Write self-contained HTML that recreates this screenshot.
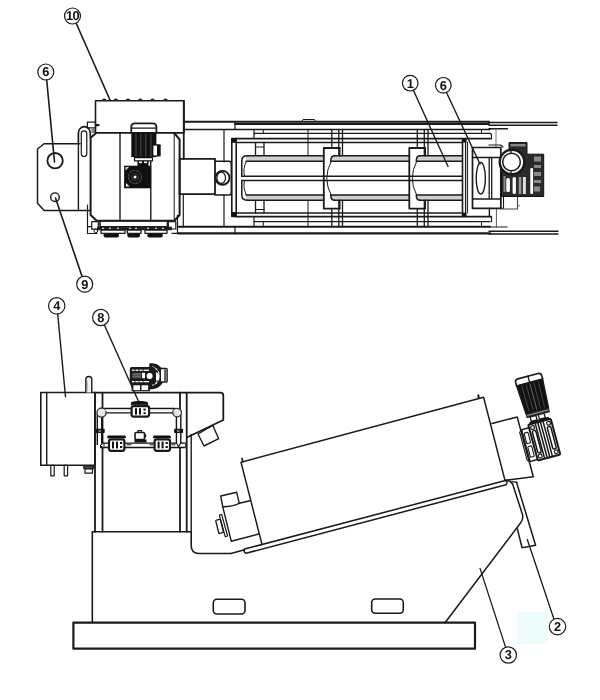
<!DOCTYPE html>
<html><head><meta charset="utf-8">
<style>
html,body{margin:0;padding:0;background:#fff;}
body{width:600px;height:700px;overflow:hidden;}
svg{display:block;filter:blur(0.35px);}
text{text-rendering:geometricPrecision;}
text{font-family:"Liberation Sans",sans-serif;font-size:12.8px;font-weight:bold;fill:#111;text-anchor:middle;}
</style></head>
<body>
<svg width="600" height="700" viewBox="0 0 600 700">
<rect width="600" height="700" fill="#fff"/>
<rect x="517.3" y="612.2" width="30.6" height="32" fill="#effcfc"/>
<g fill="none" stroke="#1a1a1a" stroke-width="1.2" stroke-linejoin="round" stroke-linecap="round">

<!-- ============ TOP VIEW ============ -->
<!-- left plate -->
<path d="M80,143.7 L44,143.7 L37.5,149 L37.5,203.3 L44.2,210.5 L90,210.5" stroke-width="1.45"/>
<line x1="78.4" y1="143.3" x2="78.4" y2="210.5" stroke-width="1.4"/>
<circle cx="55.1" cy="160.7" r="7.7" stroke-width="1.8"/>
<circle cx="55" cy="197.2" r="4.3" stroke-width="1.4"/>
<!-- handle -->
<path d="M78.4,143.3 L78.4,133 A5.95,6.4 0 0 1 90.3,133 L90.3,137" stroke-width="1.7"/>
<rect x="81.3" y="130.8" width="5.5" height="25.7" rx="2.75" stroke-width="1.2"/>
<rect x="87.4" y="122.1" width="8.1" height="5.8" stroke-width="1.2"/>
<rect x="95.5" y="124" width="4.1" height="2.3" rx="1.1" fill="#111" stroke="none"/>
<rect x="91.5" y="128" width="3.5" height="5" fill="#888" stroke="none"/>

<!-- control box 10 -->
<rect x="95.5" y="100.8" width="88.5" height="32.1" stroke-width="1.6"/>
<g fill="#222" stroke="none">
  <path d="M101.9,101 Q101.9,98.6 104.2,98.6 Q106.5,98.6 106.5,101 Z"/>
  <path d="M113.5,101 Q113.5,98.6 115.8,98.6 Q118.1,98.6 118.1,101 Z"/>
  <path d="M125.7,101 Q125.7,98.6 128.0,98.6 Q130.3,98.6 130.3,101 Z"/>
  <path d="M138.0,101 Q138.0,98.6 140.3,98.6 Q142.6,98.6 142.6,101 Z"/>
  <path d="M150.2,101 Q150.2,98.6 152.5,98.6 Q154.8,98.6 154.8,101 Z"/>
  <path d="M163.2,101 Q163.2,98.6 165.5,98.6 Q167.8,98.6 167.8,101 Z"/>
</g>

<!-- body (tank top view) -->
<path d="M95.8,133.2 L90.6,137.8 L90.6,215 L96.7,220.8 L174.2,220.8 L179.6,215 L179.6,139.5 L174.2,133" stroke-width="2"/>
<line x1="174.2" y1="133" x2="174.2" y2="220.8" stroke-width="1"/>
<line x1="120" y1="133" x2="120" y2="220" stroke-width="1.4"/>
<line x1="150.8" y1="133" x2="150.8" y2="220" stroke-width="1.4"/>

<!-- motor (top view) -->
<path d="M131.3,132.5 L131.3,127 Q131.3,123.4 135,123.4 L152.7,123.4 Q156.4,123.4 156.4,127 L156.4,132.5" stroke-width="1.8"/>
<line x1="131.3" y1="128.2" x2="156.4" y2="128.2" stroke-width="1.2"/>
<rect x="131.3" y="132.5" width="25.1" height="24.6" fill="#111" stroke="none"/>
<g stroke="#555" stroke-width="0.9">
  <line x1="136" y1="134" x2="136" y2="156"/>
  <line x1="140.9" y1="134" x2="140.9" y2="156"/>
  <line x1="145.7" y1="134" x2="145.7" y2="156"/>
  <line x1="151" y1="134" x2="151" y2="156"/>
</g>
<rect x="152" y="144.3" width="8.7" height="12.3" rx="1" fill="#111" stroke="none"/>
<rect x="153.4" y="145.6" width="3.6" height="9.8" fill="#fff" stroke="none"/>
<rect x="134.5" y="157.6" width="18" height="3.2" fill="#fff" stroke="#111" stroke-width="1.2"/>
<rect x="137.5" y="160.8" width="11" height="5.2" fill="#111" stroke="none"/>
<rect x="139" y="161.5" width="3" height="1.6" fill="#fff" stroke="none"/>
<rect x="144" y="161.5" width="3" height="1.6" fill="#fff" stroke="none"/>
<rect x="124.1" y="165.7" width="26.8" height="22.6" fill="#111" stroke="none"/>
<circle cx="135" cy="177" r="6.5" stroke="#444" stroke-width="1.2" stroke-dasharray="2,1.5"/>
<circle cx="135" cy="177" r="3.5" stroke="#444" stroke-width="0.8"/>
<circle cx="135" cy="177" r="1.5" fill="#fff" stroke="none"/>
<path d="M126,186.5 L129.5,186.5 L126,183 Z" fill="#fff" stroke="none"/>
<path d="M125.5,167 L129,167 L125.5,170.5 Z" fill="#ddd" stroke="none"/>

<!-- body bottom bolts -->
<rect x="100" y="220.8" width="67.5" height="5.9" stroke-width="1.6"/>
<rect x="97" y="226.7" width="75" height="3.5" fill="#222" stroke="none"/>
<g fill="#fff" stroke="none">
  <circle cx="103" cy="228.4" r="0.8"/><circle cx="110" cy="228.4" r="0.8"/><circle cx="118" cy="228.4" r="0.8"/>
  <circle cx="130" cy="228.4" r="0.8"/><circle cx="136" cy="228.4" r="0.8"/><circle cx="148" cy="228.4" r="0.8"/>
  <circle cx="156" cy="228.4" r="0.8"/><circle cx="163" cy="228.4" r="0.8"/>
</g>
<g fill="#111" stroke="none">
  <rect x="103.5" y="233" width="15.5" height="4.6" rx="2"/>
  <rect x="127.3" y="233" width="12.7" height="4.6" rx="2"/>
  <rect x="147.3" y="233" width="15.5" height="4.6" rx="2"/>
</g>
<g stroke-width="1.3" fill="#fff">
  <rect x="101" y="230" width="24" height="3.3"/>
  <rect x="127.3" y="230" width="13.7" height="3.3"/>
  <rect x="145" y="230" width="22" height="3.3"/>
</g>
<path d="M87.5,205 L87.5,226.7 L90.8,226.7 M87.5,226.7 L87.5,233.5 L97,233.5" stroke-width="1.2"/>
<rect x="91.7" y="221.7" width="6.6" height="7.5" stroke-width="1.2"/>
<circle cx="95.8" cy="231" r="1.8" stroke-width="1"/>
<rect x="168.3" y="221.7" width="7.5" height="7.3" stroke-width="1.2"/>
<path d="M177.5,215 L177.5,233.3 L172,233.3" stroke-width="1.2"/>
<!-- coupling -->
<line x1="183.75" y1="100.8" x2="183.75" y2="159" stroke-width="1.8"/>
<rect x="179.6" y="158.8" width="35.4" height="35.4" stroke-width="1.8"/>
<path d="M215,161.3 L229,161.3 Q231.3,161.3 231.3,164 L231.3,192.5 Q231.3,195 229,195 L215,195" stroke-width="1.5"/>
<circle cx="222.5" cy="177.8" r="7" stroke-width="1.8"/>
<ellipse cx="221.2" cy="177.8" rx="4.3" ry="5.6" stroke-width="1.2"/>
<line x1="224" y1="130" x2="224" y2="162" stroke-width="1.2"/>
<line x1="224" y1="195" x2="224" y2="226.5" stroke-width="1.2"/>
<line x1="183.3" y1="195" x2="183.3" y2="227" stroke-width="1.2"/>

<!-- frame rails -->
<line x1="184" y1="121.8" x2="489" y2="121.8" stroke-width="2"/>
<line x1="235" y1="124" x2="489" y2="124" stroke-width="1.8"/>
<line x1="489" y1="122.5" x2="557" y2="122.5" stroke-width="1.5"/>
<line x1="489" y1="125.2" x2="557" y2="125.2" stroke-width="1.4"/>
<line x1="184" y1="129.5" x2="490" y2="129.5" stroke-width="1.6"/>
<line x1="235" y1="121.7" x2="235" y2="129.5" stroke-width="1.2"/>
<line x1="489" y1="128.8" x2="507.5" y2="128.8" stroke-width="1.4"/>
<path d="M301.7,121.7 L303,119.5 L314.5,119.5 L315.8,121.7" stroke-width="1"/>
<line x1="254" y1="133.3" x2="490" y2="133.3" stroke-width="1.2"/>
<line x1="254" y1="129.5" x2="254" y2="138.6" stroke-width="1.2"/>
<line x1="236" y1="138.6" x2="491" y2="138.6" stroke-width="1.7"/>
<line x1="236" y1="142.5" x2="462" y2="142.5" stroke-width="1.3"/>

<line x1="236" y1="213" x2="462" y2="213" stroke-width="1.6"/>
<line x1="236" y1="216.6" x2="491" y2="216.6" stroke-width="1.6"/>
<line x1="254" y1="221.6" x2="490" y2="221.6" stroke-width="1.3"/>
<line x1="254" y1="216.6" x2="254" y2="226.7" stroke-width="1.2"/>
<line x1="178" y1="226.7" x2="490" y2="226.7" stroke-width="1.9"/>
<line x1="178" y1="233.4" x2="490" y2="233.4" stroke-width="2.2"/>
<line x1="235" y1="226.7" x2="235" y2="233.4" stroke-width="1.2"/>
<line x1="490" y1="227" x2="507" y2="227" stroke-width="1.2"/>
<line x1="489" y1="231.2" x2="558" y2="231.2" stroke-width="1.4"/>
<line x1="489" y1="234" x2="558" y2="234" stroke-width="1.4"/>

<!-- frame ticks -->
<g stroke-width="1">
  <line x1="263.3" y1="129.5" x2="263.3" y2="133.3"/>
  <line x1="263.3" y1="221.6" x2="263.3" y2="226.7"/>
  <line x1="308" y1="129.5" x2="308" y2="155.8"/>
  <line x1="308" y1="200.2" x2="308" y2="226.7"/>
  <line x1="481.5" y1="129.5" x2="481.5" y2="133.3"/>
  <line x1="481.5" y1="221.6" x2="481.5" y2="226.7"/>
</g>
<g stroke-width="1.3">
  <line x1="255.5" y1="142.5" x2="255.5" y2="155.8"/>
  <line x1="264" y1="142.5" x2="264" y2="155.8"/>
  <line x1="255.5" y1="200.2" x2="255.5" y2="213"/>
  <line x1="264" y1="200.2" x2="264" y2="213"/>
  <line x1="255.5" y1="147" x2="264" y2="147" stroke-width="1"/>
  <line x1="255.5" y1="209.5" x2="264" y2="209.5" stroke-width="1"/>
  <line x1="331.8" y1="129.5" x2="331.8" y2="148"/>
  <line x1="331.8" y1="208.6" x2="331.8" y2="226.7"/>
  <line x1="338.8" y1="129.5" x2="338.8" y2="156"/>
  <line x1="338.8" y1="200.2" x2="338.8" y2="226.7"/>
  <line x1="342.5" y1="129.5" x2="342.5" y2="156"/>
  <line x1="342.5" y1="200.2" x2="342.5" y2="226.7"/>
  <line x1="417.3" y1="129.5" x2="417.3" y2="148"/>
  <line x1="417.3" y1="208.6" x2="417.3" y2="226.7"/>
  <line x1="424.3" y1="129.5" x2="424.3" y2="156"/>
  <line x1="424.3" y1="200.2" x2="424.3" y2="226.7"/>
  <line x1="428.0" y1="129.5" x2="428.0" y2="156"/>
  <line x1="428.0" y1="200.2" x2="428.0" y2="226.7"/>
</g>

<!-- inner frame left bar -->
<rect x="231.8" y="138.6" width="4.4" height="77.8" stroke-width="1.6"/>
<rect x="231.6" y="138.4" width="4.8" height="4.4" fill="#111" stroke="none"/>
<rect x="231.6" y="212" width="4.8" height="4.4" fill="#111" stroke="none"/>

<!-- drum (top view) -->
<g id="drum-top">
  <rect x="246" y="156" width="77.8" height="5.2" fill="#d0d0d0" stroke="none"/>
  <rect x="246" y="195" width="77.8" height="5.2" fill="#d0d0d0" stroke="none"/>
  <rect x="331" y="156" width="78.3" height="5.2" fill="#d0d0d0" stroke="none"/>
  <rect x="331" y="195" width="78.3" height="5.2" fill="#d0d0d0" stroke="none"/>
  <rect x="416.5" y="156" width="45.5" height="5.2" fill="#d0d0d0" stroke="none"/>
  <rect x="416.5" y="195" width="45.5" height="5.2" fill="#d0d0d0" stroke="none"/>
  <g stroke-width="1.5">
  <line x1="247" y1="155.8" x2="323.8" y2="155.8"/>
  <line x1="246" y1="161.2" x2="323.8" y2="161.2"/>
  <line x1="246" y1="195" x2="323.8" y2="195"/>
  <line x1="247" y1="200.2" x2="323.8" y2="200.2"/>
  <line x1="334" y1="155.8" x2="409.3" y2="155.8"/>
  <line x1="331" y1="161.2" x2="409.3" y2="161.2"/>
  <line x1="331" y1="195" x2="409.3" y2="195"/>
  <line x1="334" y1="200.2" x2="409.3" y2="200.2"/>
  <line x1="419.5" y1="155.8" x2="462" y2="155.8"/>
  <line x1="416.5" y1="161.2" x2="462" y2="161.2"/>
  <line x1="416.5" y1="195" x2="462" y2="195"/>
  <line x1="419.5" y1="200.2" x2="462" y2="200.2"/>
  <line x1="242" y1="176.3" x2="462" y2="176.3"/>
  <line x1="242" y1="180.5" x2="462" y2="180.5"/>
  </g>
  <path d="M247,155.8 Q241.8,155.8 241.8,161 L241.8,176.3 M247,200.2 Q241.8,200.2 241.8,195 L241.8,180.5" stroke-width="1.5"/>
  <path d="M246.5,161.5 Q242.5,168 244.5,176.3 M246.5,195 Q242.5,188 244.5,180.5" stroke-width="1"/>
  <path d="M339.8,148 L323.8,148 L323.8,208.6 L339.8,208.6" stroke-width="1.8"/>
  <path d="M339.8,148 L339.8,156 M339.8,200.2 L339.8,208.6" stroke-width="1.4"/>
  <path d="M330.8,161.2 Q330.8,155.8 334.3,155.8 M330.8,195 Q330.8,200.2 334.3,200.2" stroke-width="1.5"/>
  <path d="M331.1,161.5 Q322.3,178.3 331.1,195" stroke-width="1"/>
  <path d="M425.3,148 L409.3,148 L409.3,208.6 L425.3,208.6" stroke-width="1.8"/>
  <path d="M425.3,148 L425.3,156 M425.3,200.2 L425.3,208.6" stroke-width="1.4"/>
  <path d="M416.3,161.2 Q416.3,155.8 419.8,155.8 M416.3,195 Q416.3,200.2 419.8,200.2" stroke-width="1.5"/>
  <path d="M416.6,161.5 Q407.8,178.3 416.6,195" stroke-width="1"/>
</g>

<!-- right end (top view) -->
<line x1="462.5" y1="138.6" x2="462.5" y2="216.6" stroke-width="1.6"/>
<line x1="465.6" y1="138.6" x2="465.6" y2="216.6" stroke-width="1.3"/>
<line x1="467.6" y1="142" x2="467.6" y2="213" stroke-width="1"/>
<rect x="462" y="138.6" width="4.4" height="4" fill="#111" stroke="none"/>
<rect x="462" y="212.6" width="4.4" height="4" fill="#111" stroke="none"/>
<path d="M490,133.3 Q491.5,133.3 491.5,136 L491.5,138.6" stroke-width="1.2"/>
<line x1="491.5" y1="216.6" x2="491.5" y2="221.6" stroke-width="1.2"/>
<line x1="496" y1="129" x2="496" y2="147.5" stroke="#777" stroke-width="1"/>
<line x1="496.4" y1="208.3" x2="496.4" y2="227" stroke="#555" stroke-width="1"/>
<line x1="489.4" y1="208.3" x2="489.4" y2="216.6" stroke-width="1.4"/>
<path d="M489,145 L500.5,145 L503,147" stroke-width="1.2"/>
<rect x="472.5" y="147.5" width="28.3" height="60.8" stroke-width="1.7"/>
<line x1="472.5" y1="157.5" x2="500.8" y2="157.5" stroke-width="1.3"/>
<line x1="472.5" y1="199" x2="500.8" y2="199" stroke-width="1.3"/>
<line x1="489.2" y1="157.5" x2="489.2" y2="198.3" stroke-width="1.3"/>
<line x1="491.7" y1="157.5" x2="491.7" y2="198.3" stroke-width="1.3"/>
<ellipse cx="480.8" cy="178.3" rx="4.6" ry="15.8" stroke-width="1.4"/>
<path d="M500.8,196 L503.5,196 L503.5,208.3 L500.8,208.3" stroke-width="1.1"/>
<path d="M500.8,209 L517.5,209 L517.5,196.5" stroke="#444" stroke-width="1.1"/>
<path d="M517.5,205 L519.5,206" stroke="#666" stroke-width="1"/>

<!-- end motor/gearbox (top view) -->
<g>
  <path d="M501.5,172 L501.5,196.5 L543.7,196.5 L543.7,154.2 L527,154.2 L527,142.6 L509,142.6 L509,150 Z" fill="#2a2a2a" stroke="#111" stroke-width="1"/>
  <rect x="510.5" y="144" width="15" height="2.4" fill="#888" stroke="none"/>
  <g fill="#fff" stroke="none">
    <rect x="506.3" y="178" width="3.6" height="14" rx="1.5"/>
    <rect x="512.6" y="177" width="3.3" height="17" rx="1.5"/>
    <rect x="518.7" y="177" width="2.6" height="17" fill="#999"/>
    <rect x="522.9" y="177" width="3" height="17" fill="#ddd"/>
    <rect x="530.3" y="168" width="2.8" height="26" rx="1.2"/>
  </g>
  <g fill="#8a8a8a" stroke="none">
    <rect x="534" y="156.5" width="7" height="5"/>
    <rect x="534" y="165" width="7" height="3"/>
    <rect x="534" y="172" width="7" height="4"/>
    <rect x="534" y="180" width="7" height="3"/>
    <rect x="534" y="186.5" width="6" height="5"/>
    <rect x="503.5" y="176" width="2" height="16"/>
  </g>
  <circle cx="512" cy="162" r="12.3" fill="#fff" stroke-width="2.4"/>
  <circle cx="511.5" cy="162" r="8.8" stroke-width="1.5"/>
  <line x1="511" y1="149.5" x2="511" y2="153.5" stroke-width="1.2"/>
  <line x1="511" y1="170.5" x2="511" y2="174.5" stroke-width="1.2"/>
</g>

<!-- callouts -->
<g id="callouts-top">
  <circle cx="72.5" cy="16" r="8"/>
  <circle cx="45.8" cy="72" r="8"/>
  <circle cx="84.7" cy="284.2" r="8"/>
  <circle cx="410.2" cy="83.2" r="7.8"/>
  <circle cx="443.3" cy="85.3" r="7.8"/>
  <line x1="76.3" y1="23.5" x2="110" y2="100" stroke-width="1.6"/>
  <line x1="46.7" y1="80" x2="54.5" y2="162" stroke-width="1.6"/>
  <line x1="55.5" y1="198" x2="82" y2="276.2" stroke-width="1.6"/>
  <line x1="413.5" y1="90.5" x2="448" y2="166.5" stroke-width="1.4"/>
  <line x1="446.5" y1="92.5" x2="480" y2="164" stroke-width="1.4"/>
</g>


<!-- ============ SIDE VIEW ============ -->
<g id="callouts-side">
  <circle cx="56.7" cy="305.8" r="8.2"/>
  <circle cx="100.8" cy="317.5" r="8.2"/>
  <circle cx="557.5" cy="626.6" r="8.2"/>
  <circle cx="508.3" cy="655" r="8.2"/>
  <line x1="57.7" y1="314" x2="65.5" y2="396.7" stroke-width="1.4"/>
  <line x1="104.5" y1="325.3" x2="138.7" y2="401.7" stroke-width="1.4"/>
  <line x1="527.3" y1="539.5" x2="553.8" y2="618.8" stroke-width="1.3"/>
  <line x1="480" y1="568.3" x2="505.5" y2="647" stroke-width="1.2"/>
</g>

<!-- tank 4 -->
<rect x="40.8" y="392.5" width="54.2" height="72.8" stroke-width="1.6"/>
<line x1="46.7" y1="392.5" x2="46.7" y2="465.3" stroke-width="1.4"/>
<path d="M85.8,392.5 L85.8,379.5 A3,3 0 0 1 91.8,379.5 L91.8,392.5" fill="#f2f2f2" stroke-width="1.4"/>
<line x1="87.5" y1="381" x2="87.5" y2="391" stroke="#bbb" stroke-width="1"/>
<rect x="50.8" y="465.3" width="3.4" height="10.5" stroke-width="1.2"/>
<rect x="64.2" y="465.3" width="3.4" height="10.5" stroke-width="1.2"/>
<rect x="83.2" y="465.3" width="11" height="3.8" fill="#222" stroke="none"/>
<line x1="85" y1="467.2" x2="92.5" y2="467.2" stroke="#888" stroke-width="0.8" stroke-dasharray="1,1"/>
<rect x="85" y="469" width="7.5" height="4.2" stroke-width="1.2"/>

<!-- frame posts & top beam -->
<path d="M95,392.7 L220.5,392.7 Q223.3,392.7 223.3,395.5 L223.3,420 L187.3,437.3" stroke-width="1.8"/>
<line x1="95" y1="392.7" x2="95" y2="531.7" stroke-width="1.8"/>
<line x1="102.5" y1="392.7" x2="102.5" y2="531.7" stroke-width="1.8"/>
<line x1="180" y1="392.7" x2="180" y2="531.7" stroke-width="1.8"/>
<line x1="186.7" y1="392.7" x2="186.7" y2="531.7" stroke-width="1.8"/>
<line x1="191.2" y1="434.5" x2="191.2" y2="531" stroke-width="1.4"/>
<!-- inlet (flocculation) box -->
<path d="M198,434 L212.7,425.3 L218.7,438.7 L204,446 Z" stroke-width="1.4"/>

<!-- base block -->
<path d="M92.3,621.7 L92.3,531.7 L191.2,531.7 L191.2,545.5 Q191.2,553.5 199,553.5 L231,553.5 L244.5,549.7" stroke-width="1.6"/>
<rect x="73.4" y="622.7" width="401.6" height="26" stroke-width="2.2"/>
<rect x="213.3" y="599.3" width="31.7" height="14.7" rx="3.5" stroke-width="1.6"/>
<rect x="371.7" y="599" width="31.6" height="14.3" rx="3.5" stroke-width="1.6"/>

<!-- drum (side view) -->
<path d="M262,544.5 L241,462.2 L483.6,397.2 L505,480.5" stroke-width="1.45"/>
<path d="M242,458.3 L242.8,461.8" stroke-width="1.6"/>
<path d="M478.3,395.2 L478.8,398" stroke-width="2"/>
<!-- tray -->
<path d="M244.5,549.1 L505.4,480.5 Q508.5,481.5 506,484.8 L246,553.3 Q243,552 244.5,549.1" stroke-width="1.5"/>
<!-- inlet boxes on drum left end -->
<path d="M220.7,496 L236.7,492.3 L239.3,503.3 Q232,506.8 222.7,506.7 Z" stroke-width="1.4"/>
<path d="M250,500.7 L239.3,503.3 M222.7,506.7 L231.3,541.3 L258.7,534" stroke-width="1.4"/>
<path d="M219.3,515.2 L221.6,514.4 L227.6,536 L225.3,536.8 Z" stroke-width="1.2"/>
<g transform="translate(219.6,526.4) rotate(-14)">
  <rect x="-2.4" y="-6.8" width="4.8" height="13.6" rx="0.8" stroke-width="1.4"/>
</g>

<!-- end box (side view) -->
<path d="M492,423.5 L517.2,417 L533.3,476.7 L505,480.3" stroke-width="1.5"/>
<!-- motor + gearbox tilted (side view) -->
<g transform="translate(514.9,379.7) rotate(-15)">
  <path d="M0,6.5 L0,3 Q0,0 3,0 L24,0 Q27,0 27,3 L27,6.5 Z" fill="#fff" stroke-width="1.7"/>
  <line x1="13.5" y1="0" x2="13.5" y2="6.5" stroke-width="1.3"/>
  <path d="M0,6.5 L27,6.5 L25.3,36 L1.8,36 Z" fill="#111" stroke-width="1.2"/>
  <g stroke="#444" stroke-width="1">
    <line x1="5" y1="8" x2="5.5" y2="34"/>
    <line x1="9.5" y1="8" x2="9.8" y2="34"/>
    <line x1="13.5" y1="8" x2="13.5" y2="34" stroke="#666"/>
    <line x1="17.5" y1="8" x2="17.2" y2="34"/>
    <line x1="22" y1="8" x2="21.5" y2="34"/>
  </g>
  <rect x="2" y="36" width="23" height="3.8" fill="#333" stroke-width="1"/>
  <line x1="3" y1="37.8" x2="24" y2="37.8" stroke="#aaa" stroke-width="0.8"/>
  <rect x="5" y="40" width="6" height="4.5" fill="#fff" stroke-width="1.3"/>
  <rect x="13.5" y="40" width="6" height="4.5" fill="#fff" stroke-width="1.3"/>
  <rect x="3" y="44.5" width="20" height="2.5" fill="#111" stroke="none"/>
  <!-- gearbox -->
  <rect x="1.2" y="47" width="23.3" height="37" rx="1" fill="#fff" stroke-width="2"/>
  <rect x="3" y="49" width="3.5" height="3.5" rx="1" stroke-width="1.2"/>
  <rect x="19.5" y="49" width="3.5" height="3.5" rx="1" stroke-width="1.2"/>
  <rect x="3" y="78.5" width="3.5" height="3.5" rx="1" stroke-width="1.2"/>
  <rect x="19.5" y="78.5" width="3.5" height="3.5" rx="1" stroke-width="1.2"/>
  <rect x="3.3" y="54" width="3.6" height="23" rx="1.5" stroke-width="1.5"/>
  <rect x="18.8" y="54" width="3.6" height="23" rx="1.5" stroke-width="1.5"/>
  <line x1="8.3" y1="48" x2="8.3" y2="83" stroke-width="1.5"/>
  <line x1="11" y1="48" x2="11" y2="83" stroke-width="1.5"/>
  <line x1="13.7" y1="48" x2="13.7" y2="83" stroke-width="1.5"/>
  <line x1="16.4" y1="48" x2="16.4" y2="83" stroke-width="1.5"/>
  <!-- flange -->
  <rect x="-6.5" y="50" width="7.5" height="33" fill="#fff" stroke-width="1.5"/>
  <rect x="-5" y="54" width="4" height="11" rx="1" stroke-width="1.1"/>
  <rect x="-5" y="68" width="4" height="11" rx="1" stroke-width="1.1"/>
  <path d="M-6.5,50 L-9,52 L-9,81 L-6.5,83" stroke-width="1.1"/>
</g>

<!-- support leg -->
<path d="M506.7,480.3 Q510.5,480.6 512.6,484 L522.5,514.5 Q523.6,519 520.5,523 L445,622.7" stroke-width="1.5"/>
<path d="M516.5,482.3 L535.6,545.2 L522.1,547.8 L517.3,528.8" stroke-width="1.5"/>
<path d="M512,481.6 L517,482.3" stroke-width="1.3"/>

<!-- top motor on frame (side view) -->
<g>
  <path d="M151,364 A12.2,12.2 0 0 1 152,388.4 L150,388.4 L150,364 Z" fill="#1a1a1a" stroke="#1a1a1a" stroke-width="1.5"/>
  <path d="M156,372 L159,374 L159,380 L156,382 Z" fill="#fff" stroke="none"/>
  <path d="M152.5,367 A9.3,9.3 0 0 1 152.5,385" stroke="#fff" stroke-width="1.2" stroke-dasharray="2.2,1.6"/>
  <rect x="130.4" y="367.6" width="24" height="16.4" rx="1.5" fill="#1a1a1a" stroke="#1a1a1a" stroke-width="1.2"/>
  <rect x="132" y="369.6" width="17" height="1.3" fill="#fff" stroke="none"/>
  <rect x="132" y="381" width="17" height="1.3" fill="#fff" stroke="none"/>
  <g stroke="#1a1a1a" stroke-width="0.9">
    <line x1="135" y1="369.2" x2="135" y2="371.3"/><line x1="139" y1="369.2" x2="139" y2="371.3"/><line x1="143" y1="369.2" x2="143" y2="371.3"/>
    <line x1="135" y1="380.6" x2="135" y2="382.7"/><line x1="139" y1="380.6" x2="139" y2="382.7"/><line x1="143" y1="380.6" x2="143" y2="382.7"/>
  </g>
  <rect x="132.4" y="372.8" width="8.8" height="5.4" fill="#555" stroke="none"/>
  <g stroke="#777" stroke-width="0.7"><line x1="133" y1="374.3" x2="140.5" y2="374.3"/><line x1="133" y1="376.6" x2="140.5" y2="376.6"/></g>
  <rect x="142" y="372.8" width="3" height="5.4" fill="#fff" stroke="none"/>
  <circle cx="149.6" cy="376" r="3" fill="#fff" stroke="none"/>
  <rect x="160.3" y="368.5" width="6.8" height="13.5" rx="0.8" fill="#fff" stroke="#1a1a1a" stroke-width="1.4"/>
  <rect x="164" y="369.4" width="2.6" height="11.8" fill="#666" stroke="none"/>
  <path d="M157,370 L160.3,370 M157,381 L160.3,381" stroke-width="1.2"/>
  <rect x="131.6" y="384" width="18.4" height="7.2" fill="#1a1a1a" stroke="none"/>
  <rect x="133.4" y="385.3" width="6.6" height="4.8" fill="#fff" stroke="none"/>
  <rect x="141.5" y="385.3" width="6.6" height="4.8" fill="#fff" stroke="none"/>
</g>

<!-- pipes -->
<g fill="none" stroke-linecap="butt">
  <path d="M104,410.65 L175,410.65 M99.5,414 L99.5,445 M178.6,414 L178.6,445 M100,445.3 L185.7,445.3" stroke="#111" stroke-width="5.8"/>
  <path d="M104,410.65 L175,410.65 M99.5,414 L99.5,445 M178.6,414 L178.6,445 M101,445.3 L185,445.3" stroke="#fff" stroke-width="3"/>
  <path d="M104,409.8 L175,409.8" stroke="#ddd" stroke-width="0.8"/>
</g>
<circle cx="101.5" cy="412.6" r="4.6" fill="#e4e4e4" stroke="#333" stroke-width="1.3"/>
<path d="M98.5,414.5 Q101,409 105.5,410.5" stroke="#eee" stroke-width="1.3"/>
<circle cx="177.1" cy="412.6" r="4.3" fill="#e4e4e4" stroke="#333" stroke-width="1.3"/>
<path d="M174,410.5 Q178,409 180,413.5" stroke="#eee" stroke-width="1.3"/>
<!-- valves -->
<g>
  <path d="M131.2,404.3 L131.8,402.3 Q139.5,400.4 147.2,402.3 L147.8,404.3 Z" fill="#111" stroke="#111" stroke-width="1"/>
  <rect x="131.6" y="406.2" width="17.5" height="10.4" rx="2" fill="#fff" stroke-width="2.2"/>
  <rect x="135" y="408.2" width="2" height="6.4" fill="#111" stroke="none"/>
  <rect x="139" y="408.2" width="2" height="6.4" fill="#111" stroke="none"/>
  <rect x="143.5" y="408.6" width="2.2" height="2" fill="#111" stroke="none"/>
  <rect x="143.5" y="412.2" width="2.2" height="2" fill="#111" stroke="none"/>

  <path d="M107.8,437.7 L108.2,436 L125,436 L125.3,437.7 Z" fill="#111" stroke="#111" stroke-width="1.2"/>
  <rect x="109" y="439.4" width="15.4" height="11.4" rx="2" fill="#fff" stroke-width="2.2"/>
  <rect x="112" y="441.6" width="2" height="6.8" fill="#111" stroke="none"/>
  <rect x="116" y="441.6" width="2" height="6.8" fill="#111" stroke="none"/>
  <rect x="120" y="442" width="2.2" height="2" fill="#111" stroke="none"/>
  <rect x="120" y="446" width="2.2" height="2" fill="#111" stroke="none"/>

  <path d="M153.7,437.7 L154.1,436 L170,436 L170.3,437.7 Z" fill="#111" stroke="#111" stroke-width="1.2"/>
  <rect x="154.6" y="439.4" width="15.4" height="11.4" rx="2" fill="#fff" stroke-width="2.2"/>
  <rect x="157.6" y="441.6" width="2" height="6.8" fill="#111" stroke="none"/>
  <rect x="161.6" y="441.6" width="2" height="6.8" fill="#111" stroke="none"/>
  <rect x="165.6" y="442" width="2.2" height="2" fill="#111" stroke="none"/>
  <rect x="165.6" y="446" width="2.2" height="2" fill="#111" stroke="none"/>

  <rect x="135" y="432.5" width="9.5" height="7" rx="1" fill="#fff" stroke-width="1.6"/>
  <path d="M138,432.5 L138,430.6 L141.5,430.6 L141.5,432.5" stroke-width="1.2"/>
  <path d="M144.5,434 Q147,435.5 144.5,437.5" stroke-width="1.2"/>
  <rect x="134.5" y="439.5" width="12" height="3" fill="#111" stroke="none"/>

  <rect x="95.7" y="428.8" width="9" height="4.3" rx="0.8" fill="#111" stroke="none"/>
  <rect x="98.5" y="429.8" width="2.5" height="2.3" fill="#777" stroke="none"/>
  <rect x="174.1" y="428.8" width="9" height="4.3" rx="0.8" fill="#111" stroke="none"/>
  <rect x="177" y="429.8" width="2.5" height="2.3" fill="#777" stroke="none"/>
  <path d="M100.3,445.3 L104,442.8 L104,447.8 Z" fill="#fff" stroke-width="1"/>
  <path d="M176.5,443 L178.6,446.8 L180.7,443" stroke-width="1.1"/>
  <path d="M127,444.8 L131,444.8 M150,444.8 L153,444.8 M172,444.8 L175,444.8" stroke="#111" stroke-width="1"/>
</g>
</g>

<!-- text labels -->
<g style="filter:grayscale(1)">
  <text x="72.5" y="20.3" style="letter-spacing:-0.5px">10</text>
  <text x="45.8" y="76.3">6</text>
  <text x="84.7" y="288.5">9</text>
  <text x="410.2" y="87.5">1</text>
  <text x="443.3" y="89.6">6</text>
  <text x="56.7" y="310.1">4</text>
  <text x="100.8" y="321.8">8</text>
  <text x="557.5" y="631">2</text>
  <text x="508.3" y="659.3">3</text>
</g>
</svg>
</body></html>
